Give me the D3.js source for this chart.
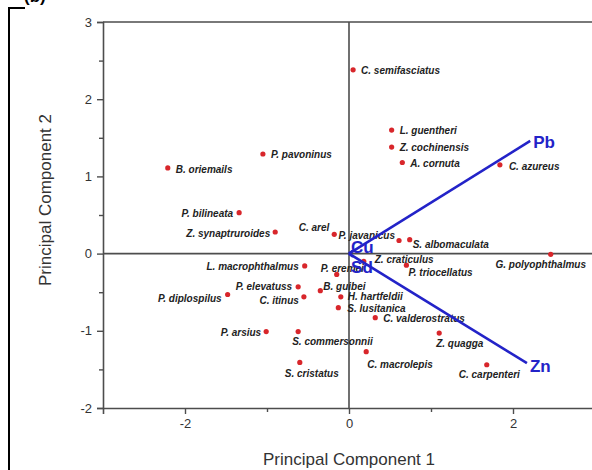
<!DOCTYPE html>
<html>
<head>
<meta charset="utf-8">
<script src="https://cdn.jsdelivr.net/npm/d3@7/dist/d3.min.js"></script>
<style>
  html, body { margin: 0; padding: 0; background: #fff; overflow: hidden; }
  svg { display: block; }
</style>
</head>
<body>
<svg id="chart" width="592" height="470"></svg>
<script>
// PCA score plot: species scores and metal loadings
const species = [
  "C. semifasciatus", "L. guentheri", "Z. cochinensis", "A. cornuta", "C. azureus",
  "P. pavoninus", "B. oriemails", "P. bilineata", "Z. synaptruroides", "C. arel",
  "P. javanicus", "S. albomaculata", "Z. craticulus", "P. triocellatus", "G. polyophthalmus",
  "L. macrophthalmus", "P. eremei", "B. guibei", "P. elevatuss", "C. itinus",
  "P. diplospilus", "H. hartfeldii", "S. lusitanica", "C. valderostratus", "Z. quagga",
  "C. macrolepis", "C. carpenteri", "S. commersonnii", "P. arsius", "S. cristatus"
];
const pc1 = [
  0.05, 0.52, 0.52, 0.65, 1.84,
  -1.05, -2.21, -1.34, -0.90, -0.18,
  0.61, 0.74, 0.18, 0.70, 2.46,
  -0.54, -0.15, -0.35, -0.62, -0.55,
  -1.48, -0.10, -0.13, 0.32, 1.10,
  0.21, 1.68, -0.62, -1.01, -0.60
];
const pc2 = [
  2.38, 1.60, 1.38, 1.18, 1.15,
  1.29, 1.11, 0.53, 0.28, 0.25,
  0.17, 0.18, -0.10, -0.15, -0.01,
  -0.16, -0.27, -0.48, -0.43, -0.56,
  -0.53, -0.56, -0.70, -0.83, -1.03,
  -1.27, -1.44, -1.01, -1.01, -1.41
];
// loading vectors
const metals = ["Pb", "Zn", "Cu", "Sd"];
const load1 = [2.21, 2.17, 0.05, 0.05];
const load2 = [1.46, -1.42, 0.04, -0.04];

const xTicks = [-2, 0, 2];
const yTicks = [-2, -1, 0, 1, 2, 3];

// label placement relative to each dot: [dx, dy, anchor]
const labelOffsets = [
  [8, 4, "start"], [8, 4, "start"], [8, 4, "start"], [8, 4, "start"], [9, 5, "start"],
  [8, 4, "start"], [8, 5, "start"], [-6, 4, "end"], [-5, 5, "end"], [-5, -3, "end"],
  [-4, -1, "end"], [3, 8, "start"], [11, 2, "start"], [2, 11, "start"], [-10, 14, "middle"],
  [-6, 4, "end"], [-16, -2, "start"], [3, -1, "start"], [-6, 3, "end"], [-5, 7, "end"],
  [-6, 7, "end"], [7, 3, "start"], [9, 4, "start"], [8, 4, "start"], [-3, 14, "start"],
  [1, 16, "start"], [-28, 13, "start"], [-6, 13, "start"], [-5, 4, "end"], [-15, 15, "start"]
];
const metalOffsets = [[3, 7], [3, 9], [-2, 2], [-2, 16]];

const svg = d3.select("#chart");
const x = d3.scaleLinear().domain([-3, 3]).range([103, 595]);
const y = d3.scaleLinear().domain([-2, 3]).range([408, 22]);

const axisColor = "#4d4d4d";
const font = "Arial, 'Liberation Sans', Helvetica, sans-serif";
const tickFmt = d => String(d);

// panel bracket and tag
svg.append("path")
  .attr("d", "M25,8 H9 V470")
  .attr("fill", "none").attr("stroke", "#000").attr("stroke-width", 2);
svg.append("text").attr("x", 24).attr("y", 2)
  .attr("font-family", font).attr("font-size", 17).attr("font-weight", "bold")
  .text("(b)");

// frame: top and right edges
svg.append("line").attr("x1", x(-3)).attr("x2", x(3)).attr("y1", y(3)).attr("y2", y(3))
  .attr("stroke", axisColor).attr("stroke-width", 1.6);
svg.append("line").attr("x1", x(3)).attr("x2", x(3)).attr("y1", y(3)).attr("y2", y(-2))
  .attr("stroke", axisColor).attr("stroke-width", 1.6);

// bottom axis
const xAxis = svg.append("g").attr("transform", `translate(0,${y(-2)})`)
  .call(d3.axisBottom(x).tickValues(xTicks).tickSize(6).tickPadding(5).tickFormat(tickFmt));
const xMinor = svg.append("g").attr("transform", `translate(0,${y(-2)})`)
  .call(d3.axisBottom(x).tickValues([-1, 1]).tickSize(4).tickFormat(""));
// left axis
const yAxis = svg.append("g").attr("transform", `translate(${x(-3)},0)`)
  .call(d3.axisLeft(y).tickValues(yTicks).tickSize(6).tickPadding(5).tickFormat(tickFmt));
const yMinor = svg.append("g").attr("transform", `translate(${x(-3)},0)`)
  .call(d3.axisLeft(y).tickValues([-1.5, -0.5, 0.5, 1.5, 2.5]).tickSize(4).tickFormat(""));

[xAxis, xMinor, yAxis, yMinor].forEach(g => {
  g.select(".domain").attr("stroke", axisColor).attr("stroke-width", 1.6);
  g.selectAll(".tick line").attr("stroke", axisColor).attr("stroke-width", 1.4);
  g.selectAll(".tick text").attr("font-family", font).attr("font-size", 13).attr("fill", "#333");
});
xMinor.select(".domain").remove();
yMinor.select(".domain").remove();

// zero reference lines
svg.append("line").attr("x1", x(0)).attr("x2", x(0)).attr("y1", y(3)).attr("y2", y(-2))
  .attr("stroke", axisColor).attr("stroke-width", 1.6);
svg.append("line").attr("x1", x(-3)).attr("x2", x(3)).attr("y1", y(0)).attr("y2", y(0))
  .attr("stroke", axisColor).attr("stroke-width", 1.6);

// axis titles
svg.append("text").attr("x", x(0)).attr("y", 465).attr("text-anchor", "middle")
  .attr("font-family", font).attr("font-size", 17).attr("fill", "#333")
  .text("Principal Component 1");
svg.append("text").attr("transform", "translate(51,200) rotate(-90)").attr("text-anchor", "middle")
  .attr("font-family", font).attr("font-size", 17).attr("fill", "#333")
  .text("Principal Component 2");

// species dots and labels
const pts = species.map((s, i) => ({ name: s, a: pc1[i], b: pc2[i], off: labelOffsets[i] }));
svg.append("g").selectAll("circle").data(pts).join("circle")
  .attr("cx", d => x(d.a)).attr("cy", d => y(d.b)).attr("r", 2.6)
  .attr("fill", "#d8262b");
svg.append("g").selectAll("text").data(pts).join("text")
  .attr("x", d => x(d.a) + d.off[0]).attr("y", d => y(d.b) + d.off[1])
  .attr("text-anchor", d => d.off[2])
  .attr("font-family", font).attr("font-size", 10).attr("font-weight", "bold")
  .attr("font-style", "italic").attr("fill", "#222")
  .text(d => d.name);

// loading vectors
const vecs = metals.map((m, i) => ({ name: m, a: load1[i], b: load2[i], off: metalOffsets[i] }));
const blue = "#2323c8";
svg.append("g").selectAll("line").data(vecs).join("line")
  .attr("x1", x(0)).attr("y1", y(0))
  .attr("x2", d => x(d.a)).attr("y2", d => y(d.b))
  .attr("stroke", blue).attr("stroke-width", 2.6);
svg.append("g").selectAll("text").data(vecs).join("text")
  .attr("x", d => x(d.a) + d.off[0]).attr("y", d => y(d.b) + d.off[1])
  .attr("font-family", font).attr("font-size", 17).attr("font-weight", "bold")
  .attr("fill", blue)
  .text(d => d.name);
</script>
</body>
</html>
